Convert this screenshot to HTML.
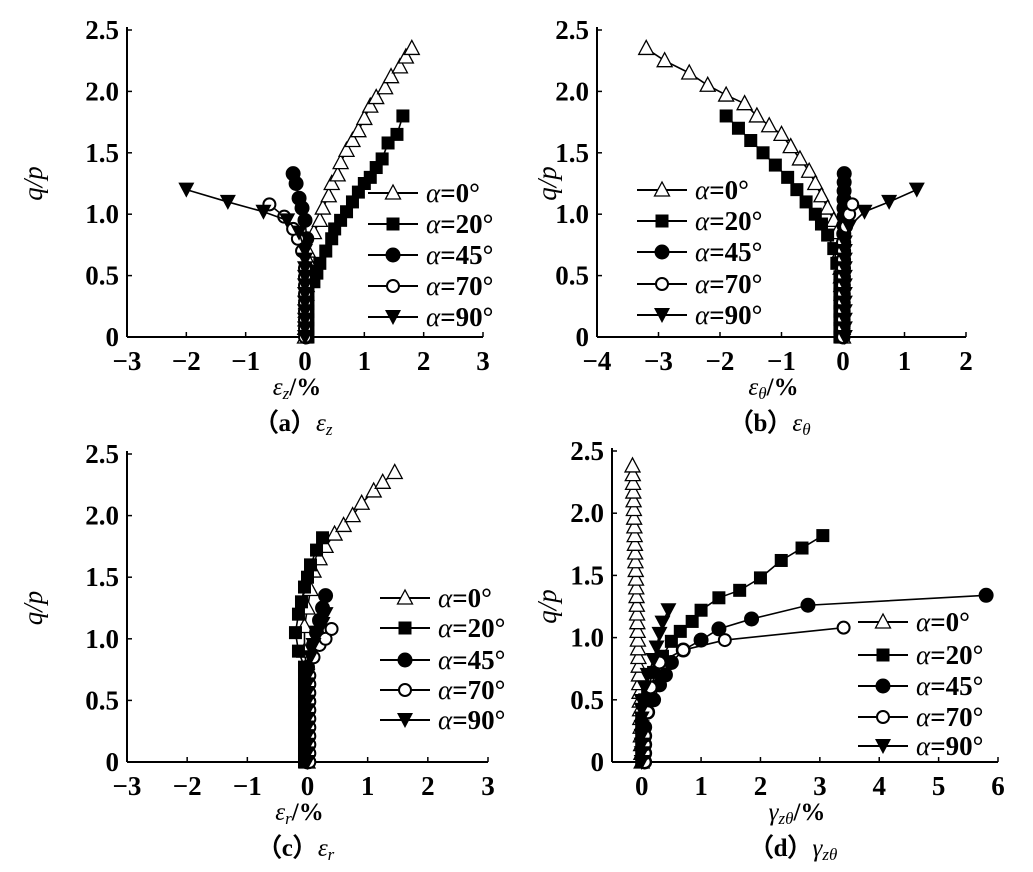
<!DOCTYPE html>
<html><head><meta charset="utf-8"><style>
body{margin:0;background:#fff}
svg text{font-family:"Liberation Serif","Times New Roman",serif;fill:#000}
</style></head><body>
<svg id="s" width="1033" height="867" xmlns="http://www.w3.org/2000/svg"></svg>
<script>
const S=document.getElementById('s');let h='';
function mk(t,x,y){
 if(t==0)return `<polygon points="${x},${y-8} ${x-7.5},${y+6} ${x+7.5},${y+6}" fill="#fff" stroke="#000" stroke-width="1.3"/>`;
 if(t==1)return `<rect x="${x-6.5}" y="${y-6.5}" width="13" height="13" fill="#000"/>`;
 if(t==2)return `<circle cx="${x}" cy="${y}" r="7.5" fill="#000"/>`;
 if(t==3)return `<circle cx="${x}" cy="${y}" r="6" fill="#fff" stroke="#000" stroke-width="2"/>`;
 return `<polygon points="${x-8},${y-7} ${x+8},${y-7} ${x},${y+8}" fill="#000"/>`;}
function stem(top,xf){const a=[];for(let y=0;y<=top+1e-9;y+=0.07)a.push([xf(y),y]);return a;}
function panel(o){
 const {x0,x1,xmin,xmax,y0,yt,ticks,series,leg,xl,cap,ylx}=o;
 const X=v=>x0+(v-xmin)/(xmax-xmin)*(x1-x0), Y=v=>y0-(v/2.5)*(y0-yt);
 h+=`<line x1="${x0}" y1="${yt-3}" x2="${x0}" y2="${y0}" stroke="#000" stroke-width="2"/>`;
 h+=`<line x1="${x0}" y1="${y0}" x2="${x1}" y2="${y0}" stroke="#000" stroke-width="2"/>`;
 for(let v=0;v<=2.5;v+=0.5){h+=`<line x1="${x0}" y1="${Y(v)}" x2="${x0+5}" y2="${Y(v)}" stroke="#000" stroke-width="1.5"/>`;
  h+=`<text x="${x0-8}" y="${Y(v)+9}" font-size="27" font-weight="bold" text-anchor="end">${v==0?'0':v.toFixed(1)}</text>`;}
 for(const t of ticks){h+=`<line x1="${X(t)}" y1="${y0}" x2="${X(t)}" y2="${y0-5}" stroke="#000" stroke-width="1.5"/>`;
  h+=`<text x="${X(t)}" y="${y0+33}" font-size="27" font-weight="bold" text-anchor="middle">${t<0?'\u2212'+(-t):t}</text>`;}
 h+=`<text transform="translate(${ylx},${(y0+yt)/2}) rotate(-90)" font-size="27" font-style="italic" text-anchor="middle">q/p</text>`;
 h+=`<text x="${(x0+x1)/2-8}" y="${y0+58}" font-size="25" text-anchor="middle">${xl}</text>`;
 h+=`<text x="${(x0+x1)/2-12}" y="${y0+94}" font-size="25" text-anchor="middle">${cap}</text>`;
 series.forEach((s,i)=>{const p=s.map(q=>[X(q[0]),Y(q[1])]);
  h+=`<polyline points="${p.map(q=>q.join(',')).join(' ')}" fill="none" stroke="#000" stroke-width="1.6"/>`;
  p.forEach(q=>h+=mk(i,q[0],q[1]));});
 const labs=['0°','20°','45°','70°','90°'];
 leg.ys.forEach((y,i)=>{h+=`<line x1="${leg.x}" y1="${y}" x2="${leg.x+50}" y2="${y}" stroke="#000" stroke-width="2"/>`+mk(i,leg.x+25,y);
  h+=`<text x="${leg.x+58}" y="${y+9}" font-size="27"><tspan font-style="italic">α</tspan><tspan font-weight="bold">=${labs[i]}</tspan></text>`;});
}
panel({x0:127,x1:483,xmin:-3,xmax:3,y0:337,yt:30,ticks:[-3,-2,-1,0,1,2,3],ylx:42,
 xl:'<tspan font-style="italic">ε<tspan font-size="17" dy="4">z</tspan></tspan><tspan dy="-4" font-weight="bold">/%</tspan>',
 cap:'<tspan font-weight="bold">（a）</tspan><tspan font-style="italic">ε<tspan font-size="17" dy="4">z</tspan></tspan>',
 series:[stem(0.75,y=>0.05*y/0.75).concat([[0.15,0.85],[0.25,0.95],[0.3,1.05],[0.4,1.15],[0.45,1.25],[0.55,1.32],[0.6,1.42],[0.7,1.52],[0.8,1.6],[0.9,1.68],[1.0,1.78],[1.1,1.88],[1.2,1.95],[1.35,2.03],[1.45,2.12],[1.6,2.2],[1.7,2.28],[1.8,2.35]]),
  stem(0.4,y=>0.05).concat([[0.15,0.45],[0.2,0.52],[0.25,0.6],[0.35,0.7],[0.45,0.8],[0.5,0.88],[0.6,0.95],[0.7,1.02],[0.8,1.1],[0.9,1.18],[1.0,1.25],[1.1,1.3],[1.2,1.38],[1.3,1.45],[1.4,1.58],[1.55,1.65],[1.65,1.8]]),
  stem(0.6,y=>0.02).concat([[0.03,0.8],[0.0,0.95],[-0.05,1.05],[-0.1,1.13],[-0.15,1.25],[-0.2,1.33]]),
  stem(0.6,y=>0).concat([[-0.05,0.7],[-0.12,0.8],[-0.2,0.88],[-0.35,0.98],[-0.6,1.08]]),
  stem(0.7,y=>0).concat([[-0.1,0.85],[-0.3,0.95],[-0.7,1.02],[-1.3,1.1],[-2.0,1.2]])],
 leg:{x:368,ys:[193,224,255,286,317]}});
panel({x0:597,x1:966,xmin:-4,xmax:2,y0:337,yt:30,ticks:[-4,-3,-2,-1,0,1,2],ylx:556,
 xl:'<tspan font-style="italic">ε<tspan font-size="17" dy="4">θ</tspan></tspan><tspan dy="-4" font-weight="bold">/%</tspan>',
 cap:'<tspan font-weight="bold">（b）</tspan><tspan font-style="italic">ε<tspan font-size="17" dy="4">θ</tspan></tspan>',
 series:[[[-3.2,2.35],[-2.9,2.25],[-2.5,2.15],[-2.2,2.05],[-1.9,1.97],[-1.6,1.9],[-1.4,1.8],[-1.2,1.72],[-1.0,1.65],[-0.85,1.55],[-0.7,1.45],[-0.55,1.35],[-0.45,1.25],[-0.35,1.15],[-0.25,1.05],[-0.15,0.95],[-0.1,0.85]].concat(stem(0.75,y=>-0.05*y/0.75).reverse()),
  [[-1.9,1.8],[-1.7,1.7],[-1.5,1.6],[-1.3,1.5],[-1.1,1.4],[-0.9,1.3],[-0.75,1.2],[-0.6,1.1],[-0.45,1.0],[-0.35,0.92],[-0.25,0.83],[-0.15,0.72],[-0.1,0.6]].concat(stem(0.5,y=>-0.05).reverse()),
  stem(1.33,y=>0.02*(y/1.33)),
  stem(0.8,y=>0).concat([[0.05,0.9],[0.1,1.0],[0.15,1.08]]),
  stem(0.8,y=>0.03).concat([[0.1,0.9],[0.35,1.02],[0.75,1.1],[1.2,1.2]])],
 leg:{x:637,ys:[190,221,252,284,315]}});
panel({x0:127,x1:488,xmin:-3,xmax:3,y0:762,yt:454,ticks:[-3,-2,-1,0,1,2,3],ylx:42,
 xl:'<tspan font-style="italic">ε<tspan font-size="17" dy="4">r</tspan></tspan><tspan dy="-4" font-weight="bold">/%</tspan>',
 cap:'<tspan font-weight="bold">（c）</tspan><tspan font-style="italic">ε<tspan font-size="17" dy="4">r</tspan></tspan>',
 series:[stem(0.7,y=>0).concat([[-0.05,0.9],[-0.05,1.1],[0,1.25],[0.05,1.4],[0.1,1.55],[0.2,1.65],[0.3,1.75],[0.45,1.85],[0.6,1.92],[0.75,2.0],[0.9,2.1],[1.1,2.2],[1.25,2.27],[1.45,2.35]]),
  stem(0.8,y=>-0.05).concat([[-0.15,0.9],[-0.2,1.05],[-0.15,1.2],[-0.1,1.3],[-0.05,1.42],[0,1.5],[0.05,1.6],[0.15,1.72],[0.25,1.82]]),
  stem(0.8,y=>0).concat([[0.1,0.95],[0.15,1.05],[0.2,1.15],[0.25,1.25],[0.3,1.35]]),
  stem(0.7,y=>0.03).concat([[0.1,0.85],[0.2,0.95],[0.3,1.0],[0.4,1.08]]),
  stem(0.7,y=>0).concat([[0.05,0.85],[0.1,0.95],[0.15,1.05],[0.25,1.12],[0.3,1.2]])],
 leg:{x:380,ys:[598,628,660,690,720]}});
panel({x0:612,x1:998,xmin:-0.5,xmax:6,y0:762,yt:451,ticks:[0,1,2,3,4,5,6],ylx:556,
 xl:'<tspan font-style="italic">γ<tspan font-size="17" dy="4">zθ</tspan></tspan><tspan dy="-4" font-weight="bold">/%</tspan>',
 cap:'<tspan font-weight="bold">（d）</tspan><tspan font-style="italic">γ<tspan font-size="17" dy="4">zθ</tspan></tspan>',
 series:[stem(2.38,y=>-0.065*y),
  stem(0.4,y=>0).concat([[0.05,0.5],[0.1,0.6],[0.2,0.72],[0.35,0.85],[0.5,0.97],[0.65,1.05],[0.85,1.13],[1.0,1.22],[1.3,1.32],[1.65,1.38],[2.0,1.48],[2.35,1.62],[2.7,1.72],[3.05,1.82]]),
  stem(0.3,y=>0.05).concat([[0.1,0.4],[0.2,0.5],[0.3,0.62],[0.4,0.7],[0.5,0.8],[0.7,0.9],[1.0,0.98],[1.3,1.07],[1.85,1.15],[2.8,1.26],[5.8,1.34]]),
  stem(0.25,y=>0.05).concat([[0.1,0.4],[0.15,0.6],[0.3,0.8],[0.7,0.9],[1.4,0.98],[3.4,1.08]]),
  stem(0.5,y=>0).concat([[0.05,0.6],[0.1,0.7],[0.2,0.82],[0.25,0.92],[0.3,1.03],[0.35,1.12],[0.45,1.22]])],
 leg:{x:858,ys:[622,655,686,717,746]}});
S.innerHTML=h;
</script>
</body></html>
